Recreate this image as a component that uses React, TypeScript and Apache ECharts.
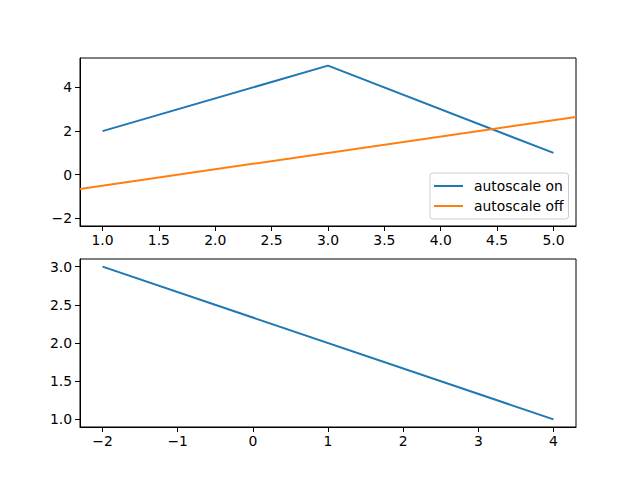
import React, { useEffect, useRef } from "react";
import * as echarts from "echarts";

const blueX = [1, 3, 5];
const blueY = [2, 5, 1];
const orangeX = [0.8, 5.2];
const orangeY = [-0.65, 2.65];
const bottomX = [-2, 4];
const bottomY = [3, 1];

const topXTicks = [1.0, 1.5, 2.0, 2.5, 3.0, 3.5, 4.0, 4.5, 5.0];
const topYTicks = [-2, 0, 2, 4];
const botXTicks = [-2, -1, 0, 1, 2, 3, 4];
const botYTicks = [1.0, 1.5, 2.0, 2.5, 3.0];

const FONT = "DejaVu Sans";
const FS = 13.9;

const fmtMinus = (s: string) => s.replace("-", "\u2212");

function axisCommon(ticks: number[], fmt: (v: number) => string, isY: boolean) {
  return {
    type: "value" as const,
    splitLine: { show: false },
    axisLine: { show: true, onZero: false, lineStyle: { color: "#000", width: 1 } },
    axisTick: {
      show: true,
      inside: false,
      length: 5,
      lineStyle: { color: "#000", width: 1 },
      customValues: ticks,
    },
    axisLabel: {
      show: true,
      color: "#000",
      fontFamily: FONT,
      fontSize: FS,
      margin: isY ? 8 : 7,
      customValues: ticks,
      formatter: (v: number) => fmtMinus(fmt(v)),
      showMinLabel: true,
      showMaxLabel: true,
    },
  };
}

export default function App() {
  const ref = useRef<HTMLDivElement>(null);
  useEffect(() => {
    if (!ref.current) return;
    const chart = echarts.init(ref.current, undefined, { renderer: "svg" });
    const toPairs = (xs: number[], ys: number[]) => xs.map((x, i) => [x, ys[i]]);
    chart.setOption({
      animation: false,
      backgroundColor: "#fff",
      grid: [
        { left: 80, top: 58, width: 496, height: 168, show: true, borderColor: "#000", borderWidth: 1, backgroundColor: "transparent" },
        { left: 80, top: 259, width: 496, height: 168, show: true, borderColor: "#000", borderWidth: 1, backgroundColor: "transparent" },
      ],
      xAxis: [
        { ...axisCommon(topXTicks, (v) => v.toFixed(1), false), gridIndex: 0, min: 0.8, max: 5.2 },
        { ...axisCommon(botXTicks, (v) => String(v), false), gridIndex: 1, min: -2.3, max: 4.3 },
      ],
      yAxis: [
        { ...axisCommon(topYTicks, (v) => String(v), true), gridIndex: 0, min: -2.35, max: 5.35 },
        { ...axisCommon(botYTicks, (v) => v.toFixed(1), true), gridIndex: 1, min: 0.9, max: 3.1 },
      ],
      legend: {
        orient: "vertical",
        left: 430,
        top: 173,
        padding: [5, 5, 5, 4],
        itemGap: 4,
        itemWidth: 29,
        itemHeight: 2,
        icon: "rect",
        backgroundColor: "rgba(255,255,255,0.8)",
        borderColor: "#cccccc",
        borderWidth: 1,
        borderRadius: 3,
        textStyle: { fontFamily: FONT, fontSize: FS, color: "#000", padding: [0, 0, 0, 6], lineHeight: 16 },
        data: ["autoscale on", "autoscale off"],
      },
      series: [
        {
          name: "autoscale on",
          type: "line",
          xAxisIndex: 0,
          yAxisIndex: 0,
          data: toPairs(blueX, blueY),
          showSymbol: false,
          symbol: "none",
          lineStyle: { color: "#1f77b4", width: 2 },
          itemStyle: { color: "#1f77b4" },
          clip: true,
        },
        {
          name: "autoscale off",
          type: "line",
          xAxisIndex: 0,
          yAxisIndex: 0,
          data: toPairs(orangeX, orangeY),
          showSymbol: false,
          symbol: "none",
          lineStyle: { color: "#ff7f0e", width: 2 },
          itemStyle: { color: "#ff7f0e" },
          clip: true,
        },
        {
          name: "bottom",
          type: "line",
          xAxisIndex: 1,
          yAxisIndex: 1,
          data: toPairs(bottomX, bottomY),
          showSymbol: false,
          symbol: "none",
          lineStyle: { color: "#1f77b4", width: 2 },
          itemStyle: { color: "#1f77b4" },
          clip: true,
        },
      ],
    });
    return () => chart.dispose();
  }, []);
  return <div ref={ref} style={{ width: 640, height: 480, position: "absolute", left: 0, top: 0 }} />;
}
